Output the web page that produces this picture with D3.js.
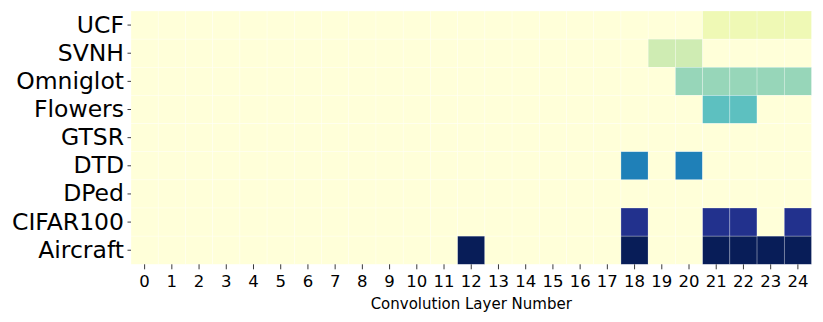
<!DOCTYPE html>
<html>
<head>
<meta charset="utf-8">
<script src="https://cdn.jsdelivr.net/npm/d3@7"></script>
<style>
	body { margin: 0; background: #fff; }
	svg text { font-family: "DejaVu Sans", sans-serif; fill: #000; }
</style>
</head>
<body>
<div class="heatmap"></div>
<script>
// datasets (rows, top to bottom) and the layers that are active for each
const datasets = ["UCF", "SVNH", "Omniglot", "Flowers", "GTSR", "DTD", "DPed", "CIFAR100", "Aircraft"];
const layers = d3.range(0, 25);
const rowValues = [1, 2, 3, 4, 5, 6, 7, 8, 9];
const activeUCF = [21, 22, 23, 24];
const activeSVNH = [19, 20];
const activeOmniglot = [20, 21, 22, 23, 24];
const activeFlowers = [21, 22];
const activeGTSR = [];
const activeDTD = [18, 20];
const activeDPed = [];
const activeCIFAR100 = [18, 21, 22, 24];
const activeAircraft = [12, 18, 21, 22, 23, 24];
const activeLayers = [activeUCF, activeSVNH, activeOmniglot, activeFlowers, activeGTSR,
	activeDTD, activeDPed, activeCIFAR100, activeAircraft];

const ylgnbu = ["#ffffd9", "#edf8b1", "#c7e9b4", "#7fcdbb", "#41b6c4", "#1d91c0", "#225ea8", "#253494", "#081d58"];

(function () {
	heatmap();
}());

function heatmap() {

	const widthSVG = 823,
		heightSVG = 322;
	const left = 131, top = 11, right = 811.5, bottom = 264.3;

	// build the cell table from the arrays
	let cells = [];
	datasets.forEach(function (name, i) {
		layers.forEach(function (l) {
			const on = activeLayers[i].indexOf(l) >= 0;
			cells.push({row: name, col: l, value: on ? rowValues[i] : 0});
		});
	});

	const color = d3.scaleLinear()
		.domain(d3.range(ylgnbu.length).map(function (i) { return i * 9 / (ylgnbu.length - 1); }))
		.range(ylgnbu)
		.interpolate(d3.interpolateRgb);

	const x = d3.scaleBand().domain(layers).range([left, right]).padding(0);
	const y = d3.scaleBand().domain(datasets).range([top, bottom]).padding(0);

	const svg = d3.select(".heatmap").append("svg")
		.attr("width", widthSVG)
		.attr("height", heightSVG);

	svg.append("g").selectAll("rect")
		.data(cells)
		.enter().append("rect")
		.attr("x", function (d) { return x(d.col); })
		.attr("y", function (d) { return y(d.row); })
		.attr("width", x.bandwidth())
		.attr("height", y.bandwidth())
		.attr("fill", function (d) { return color(d.value); })
		.attr("stroke", "rgba(255,255,255,0.45)")
		.attr("stroke-width", 0.6);

	const yAxis = d3.axisLeft(y).tickSize(3.5).tickPadding(3.5);
	const gy = svg.append("g")
		.attr("transform", "translate(" + left + ",0)")
		.call(yAxis);
	gy.select(".domain").remove();
	gy.selectAll(".tick line").attr("stroke", "#222").attr("stroke-width", 0.9);
	gy.selectAll("text").style("font-size", "23.5px").style("font-family", "DejaVu Sans");

	const xAxis = d3.axisBottom(x).tickSize(5).tickPadding(6);
	const gx = svg.append("g")
		.attr("transform", "translate(0," + bottom + ")")
		.call(xAxis);
	gx.select(".domain").remove();
	gx.selectAll(".tick line").attr("stroke", "#222").attr("stroke-width", 0.9);
	gx.selectAll("text").style("font-size", "16.5px").style("font-family", "DejaVu Sans");

	svg.append("text")
		.attr("x", (left + right) / 2)
		.attr("y", 308.5)
		.style("font-size", "15px")
		.attr("text-anchor", "middle")
		.text("Convolution Layer Number");
}
</script>
</body>
</html>
